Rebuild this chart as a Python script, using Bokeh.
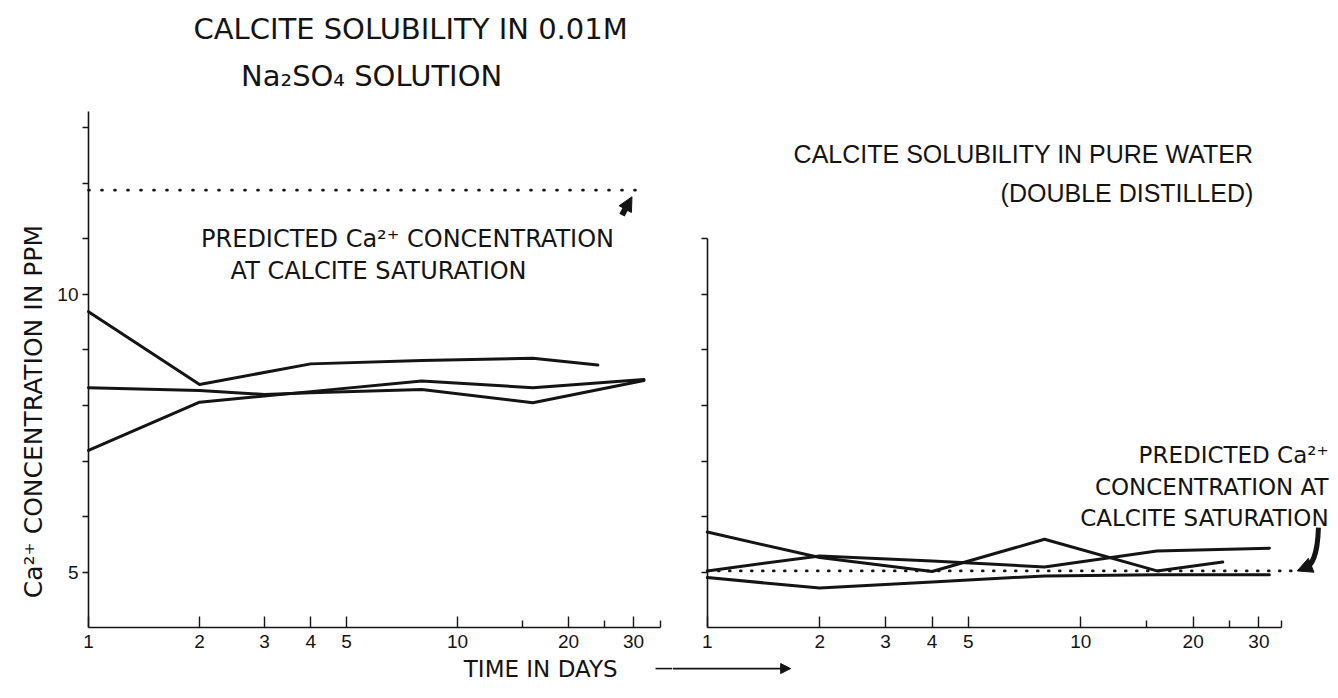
from bokeh.plotting import figure
from bokeh.layouts import row
from bokeh.models import FixedTicker, Label, Arrow, NormalHead, Range1d, PrintfTickFormatter
from bokeh.embed import file_html
from bokeh.resources import INLINE

# ---------------- data ----------------
# Left panel: calcite solubility in 0.01M Na2SO4 solution
left_top_days = [1, 2, 4, 8, 16, 24]
left_top_ppm = [9.69, 8.38, 8.75, 8.81, 8.85, 8.73]
left_mid_days = [1, 2, 3, 4, 8, 16, 32]
left_mid_ppm = [8.32, 8.27, 8.20, 8.23, 8.29, 8.05, 8.45]
left_low_days = [1, 2, 4, 8, 16, 32]
left_low_ppm = [7.19, 8.06, 8.25, 8.44, 8.32, 8.47]
left_pred_days = [1, 32.5]
left_pred_ppm = [11.88, 11.88]

# Right panel: calcite solubility in pure water (double distilled)
right_a_days = [1, 2, 4, 8, 16, 24]
right_a_ppm = [5.72, 5.26, 5.01, 5.59, 5.02, 5.18]
right_b_days = [1, 2, 4, 8, 16, 32]
right_b_ppm = [5.02, 5.29, 5.20, 5.09, 5.38, 5.43]
right_c_days = [1, 2, 4, 8, 16, 32]
right_c_ppm = [4.90, 4.71, 4.82, 4.93, 4.95, 4.95]
right_pred_days = [1, 37]
right_pred_ppm = [5.02, 5.02]

x_major_days = [1, 2, 3, 4, 5, 10, 20, 30]
x_minor_days = [15, 25]
y_major_ppm = [5, 10]
y_minor_left = [6, 7, 8, 9, 11, 12, 13]
y_minor_right = [5, 6, 7, 8, 9, 10, 11]

INK = "#141414"
TICK_FONT = "Liberation Sans"
ANNO_FONT = "DejaVu Sans"


def style(p, x_end_bound, y_end_bound):
    p.grid.visible = False
    p.outline_line_color = None
    p.background_fill_color = "white"
    p.border_fill_color = "white"
    xa = p.xaxis[0]
    ya = p.yaxis[0]
    for ax in (xa, ya):
        ax.axis_line_color = INK
        ax.axis_line_width = 1.6
        ax.major_tick_line_color = INK
        ax.minor_tick_line_color = INK
        ax.major_tick_line_width = 1.4
        ax.minor_tick_line_width = 1.4
        ax.major_label_text_font = TICK_FONT
        ax.major_label_text_font_size = "19px"
        ax.major_label_text_color = INK
    xa.fixed_location = 4
    xa.bounds = (1, x_end_bound)
    xa.major_tick_in = 11
    xa.major_tick_out = 0
    xa.minor_tick_in = 7
    xa.minor_tick_out = 0
    xa.major_label_standoff = 7
    xa.formatter = PrintfTickFormatter(format="%d")
    ya.fixed_location = 1
    ya.bounds = (4, y_end_bound)
    ya.major_tick_in = 0
    ya.major_tick_out = 6
    ya.minor_tick_in = 0
    ya.minor_tick_out = 6
    ya.major_label_standoff = 4


def label(p, x, y, text, size, align="center", font=ANNO_FONT, angle=0.0):
    p.add_layout(Label(x=x, y=y, text=text, text_font=font, text_font_size=size,
                       text_align=align, text_baseline="middle", angle=angle, text_color=INK))


# ---------------- left figure ----------------
L = figure(x_axis_type="log", x_range=Range1d(0.5775, 38.24), y_range=Range1d(2.721, 15.297),
           width=672, height=698, min_border=0,
           output_backend="svg", toolbar_location=None)
style(L, 35.4, 13.3)
L.xaxis[0].ticker = FixedTicker(ticks=x_major_days, minor_ticks=x_minor_days + [35.4])
L.yaxis[0].ticker = FixedTicker(ticks=y_major_ppm, minor_ticks=y_minor_left)

for d, v in ((left_top_days, left_top_ppm), (left_mid_days, left_mid_ppm), (left_low_days, left_low_ppm)):
    L.line(d, v, line_color=INK, line_width=3, line_join="round", line_cap="round")
L.line(left_pred_days, left_pred_ppm, line_color=INK, line_width=2.6, line_dash="1 12", line_cap="round")

label(L, 7.46, 14.79, "CALCITE SOLUBILITY IN 0.01M", "29px")
label(L, 5.85, 13.93, "Na₂SO₄ SOLUTION", "29px")
label(L, 7.32, 11.00, "PREDICTED Ca²⁺ CONCENTRATION", "24px")
label(L, 6.11, 10.42, "AT CALCITE SATURATION", "24px")
label(L, 0.709, 7.89, "Ca²⁺ CONCENTRATION IN PPM", "25px", angle=1.5708)
label(L, 16.8, 3.26, "TIME IN DAYS", "23px")
L.add_layout(Arrow(x_start=27.9, y_start=11.43, x_end=29.7, y_end=11.76, line_width=6, line_color=INK,
                   end=NormalHead(size=14, fill_color=INK, line_color=INK)))
L.add_layout(Arrow(x_start=34.4, y_start=3.26, x_end=38.24, y_end=3.26, line_width=1.6, line_color=INK,
                   end=None))

# ---------------- right figure ----------------
R = figure(x_axis_type="log", x_range=Range1d(0.807, 49.0), y_range=Range1d(2.721, 15.297),
           width=666, height=698, min_border=0,
           output_backend="svg", toolbar_location=None)
style(R, 34.4, 11)
R.xaxis[0].ticker = FixedTicker(ticks=x_major_days, minor_ticks=x_minor_days + [34.4])
R.yaxis[0].ticker = FixedTicker(ticks=[], minor_ticks=y_minor_right)

for d, v in ((right_a_days, right_a_ppm), (right_b_days, right_b_ppm), (right_c_days, right_c_ppm)):
    R.line(d, v, line_color=INK, line_width=3, line_join="round", line_cap="round")
R.line(right_pred_days, right_pred_ppm, line_color=INK, line_width=2.6, line_dash="1 10", line_cap="round")

label(R, 29.0, 12.54, "CALCITE SOLUBILITY IN PURE WATER", "25px", align="right", font="Liberation Sans")
label(R, 29.0, 11.82, "(DOUBLE DISTILLED)", "25px", align="right", font="Liberation Sans")
label(R, 46.1, 7.10, "PREDICTED Ca²⁺", "23px", align="right")
label(R, 46.1, 6.54, "CONCENTRATION AT", "23px", align="right")
label(R, 46.1, 5.98, "CALCITE SATURATION", "23px", align="right")
R.bezier(x0=[43.3], y0=[5.80], x1=[39.6], y1=[5.07], cx0=[43.1], cy0=[5.33], cx1=[41.6], cy1=[5.09],
         line_color=INK, line_width=5)
R.add_layout(Arrow(x_start=39.8, y_start=5.075, x_end=38.0, y_end=5.02, line_width=4, line_color=INK,
                   end=NormalHead(size=15, fill_color=INK, line_color=INK)))
R.add_layout(Arrow(x_start=0.807, y_start=3.26, x_end=1.672, y_end=3.26, line_width=1.6, line_color=INK,
                   end=NormalHead(size=10, fill_color=INK, line_color=INK)))

layout = row(L, R)
open("out.html", "w").write(file_html(layout, INLINE))
